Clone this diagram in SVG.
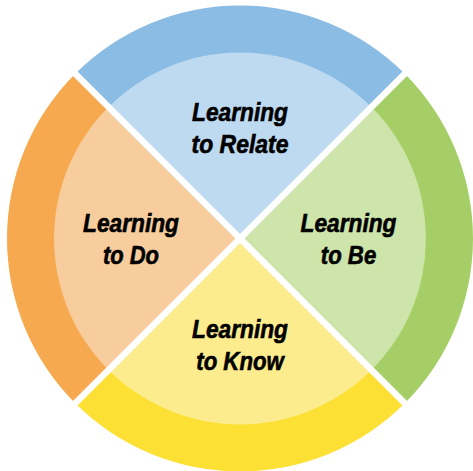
<svg xmlns="http://www.w3.org/2000/svg" width="473" height="471" viewBox="0 0 473 471">
<style>
.t{font-family:"Liberation Sans",Arial,sans-serif;font-weight:bold;font-style:italic;font-size:25px;fill:#000;stroke:#000;stroke-width:0.6;text-anchor:middle}
.sep{stroke:#fff;stroke-width:6.5;fill:none}
</style>
<rect width="473" height="471" fill="#fff"/>
<g id="relate">
<path d="M240 238.5 L75.25 73.75 A233 233 0 0 1 404.75 73.75 Z" fill="#8BBCE3"/>
<path d="M240 238.5 L108.5 107 A186 186 0 0 1 371.5 107 Z" fill="#BEDAF0"/>
<text class="t" x="240" y="120.5" textLength="96" lengthAdjust="spacingAndGlyphs">Learning</text>
<text class="t" x="240" y="153" textLength="97" lengthAdjust="spacingAndGlyphs">to Relate</text>
</g>
<g id="be">
<path d="M240 238.5 L404.75 73.75 A233 233 0 0 1 404.75 403.25 Z" fill="#A5CF66"/>
<path d="M240 238.5 L371.5 107 A186 186 0 0 1 371.5 370 Z" fill="#CDE5AA"/>
<text class="t" x="348.5" y="232" textLength="96" lengthAdjust="spacingAndGlyphs">Learning</text>
<text class="t" x="348.5" y="264" textLength="55.5" lengthAdjust="spacingAndGlyphs">to Be</text>
</g>
<g id="know">
<path d="M240 238.5 L404.75 403.25 A233 233 0 0 1 75.25 403.25 Z" fill="#FDE034"/>
<path d="M240 238.5 L371.5 370 A186 186 0 0 1 108.5 370 Z" fill="#FDEC8E"/>
<text class="t" x="240" y="337.5" textLength="96" lengthAdjust="spacingAndGlyphs">Learning</text>
<text class="t" x="240" y="369.5" textLength="87.5" lengthAdjust="spacingAndGlyphs">to Know</text>
</g>
<g id="do">
<path d="M240 238.5 L75.25 403.25 A233 233 0 0 1 75.25 73.75 Z" fill="#F6A94E"/>
<path d="M240 238.5 L108.5 370 A186 186 0 0 1 108.5 107 Z" fill="#F8CD9D"/>
<text class="t" x="131" y="232" textLength="96" lengthAdjust="spacingAndGlyphs">Learning</text>
<text class="t" x="131" y="264" textLength="56" lengthAdjust="spacingAndGlyphs">to Do</text>
</g>
<g id="separators">
<line class="sep" x1="60" y1="58.5" x2="420" y2="418.5"/>
<line class="sep" x1="420" y1="58.5" x2="60" y2="418.5"/>
</g>
</svg>
